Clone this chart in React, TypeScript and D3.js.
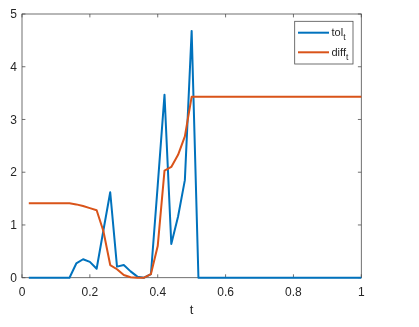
import React, { useRef, useEffect } from 'react';
import * as d3 from 'd3';

// t sampled every 0.02 from 0.02 to 1
const tValues = d3.range(1, 51).map(i => +(i * 0.02).toFixed(2));

const tolValues = [
  0, 0, 0, 0, 0, 0, 0, 0.27, 0.35, 0.3,
  0.17, 0.9, 1.62, 0.21, 0.24, 0.12, 0.02, 0, 0.07, 1.75,
  3.47, 0.64, 1.16, 1.85, 4.68, 0, 0, 0, 0, 0,
  0, 0, 0, 0, 0, 0, 0, 0, 0, 0,
  0, 0, 0, 0, 0, 0, 0, 0, 0, 0,
];

const diffValues = [
  1.41, 1.41, 1.41, 1.41, 1.41, 1.41, 1.41, 1.39, 1.36, 1.32,
  1.28, 0.88, 0.24, 0.16, 0.05, 0.01, 0, 0, 0.07, 0.6,
  2.03, 2.1, 2.33, 2.68, 3.43, 3.43, 3.43, 3.43, 3.43, 3.43,
  3.43, 3.43, 3.43, 3.43, 3.43, 3.43, 3.43, 3.43, 3.43, 3.43,
  3.43, 3.43, 3.43, 3.43, 3.43, 3.43, 3.43, 3.43, 3.43, 3.43,
];

const xTicks = [0, 0.2, 0.4, 0.6, 0.8, 1];
const yTicks = [0, 1, 2, 3, 4, 5];

const seriesNames = ['tol', 'diff'];
const seriesColors = ['#0072BD', '#D95319'];

function Chart() {
  const svgRef = useRef(null);

  useEffect(() => {
    const svg = d3.select(svgRef.current);
    svg.selectAll('*').remove();

    const width = 419;
    const height = 327;
    const margin = { top: 14, right: 57.7, bottom: 49.3, left: 22 };
    const font = 'Helvetica, Arial, "Liberation Sans", sans-serif';
    const axisColor = '#4d4d4d';
    const textColor = '#262626';

    const x = d3.scaleLinear().domain([0, 1]).range([margin.left, width - margin.right]);
    const y = d3.scaleLinear().domain([0, 5]).range([height - margin.bottom, margin.top]);

    const tick = 3.4;
    const x0 = x(0), x1 = x(1), y0 = y(0), y1 = y(5);

    // box
    svg.append('rect')
      .attr('x', x0).attr('y', y1)
      .attr('width', x1 - x0).attr('height', y0 - y1)
      .attr('fill', 'white')
      .attr('stroke', axisColor)
      .attr('stroke-width', 0.8);

    // ticks on all four sides, pointing inward
    const g = svg.append('g').attr('stroke', axisColor).attr('stroke-width', 0.8);
    xTicks.forEach(v => {
      g.append('line').attr('x1', x(v)).attr('x2', x(v)).attr('y1', y0).attr('y2', y0 - tick);
      g.append('line').attr('x1', x(v)).attr('x2', x(v)).attr('y1', y1).attr('y2', y1 + tick);
    });
    yTicks.forEach(v => {
      g.append('line').attr('x1', x0).attr('x2', x0 + tick).attr('y1', y(v)).attr('y2', y(v));
      g.append('line').attr('x1', x1).attr('x2', x1 - tick).attr('y1', y(v)).attr('y2', y(v));
    });

    // tick labels
    svg.append('g').selectAll('text').data(xTicks).join('text')
      .attr('x', d => x(d)).attr('y', y0 + 18)
      .attr('text-anchor', 'middle')
      .attr('font-family', font).attr('font-size', 12)
      .attr('fill', textColor)
      .text(d => String(d));

    svg.append('g').selectAll('text').data(yTicks).join('text')
      .attr('x', x0 - 5).attr('y', d => y(d) + 4.2)
      .attr('text-anchor', 'end')
      .attr('font-family', font).attr('font-size', 12)
      .attr('fill', textColor)
      .text(d => String(d));

    // x label
    svg.append('text')
      .attr('x', (x0 + x1) / 2).attr('y', y0 + 36.5)
      .attr('text-anchor', 'middle')
      .attr('font-family', font).attr('font-size', 13)
      .attr('fill', textColor)
      .text('t');

    const line = d3.line()
      .x((d, i) => x(tValues[i]))
      .y(d => y(d));

    [tolValues, diffValues].forEach((vals, i) => {
      svg.append('path')
        .datum(vals)
        .attr('fill', 'none')
        .attr('stroke', seriesColors[i])
        .attr('stroke-width', 2)
        .attr('stroke-linejoin', 'round')
        .attr('d', line);
    });

    // legend
    const lg = svg.append('g');
    lg.append('rect')
      .attr('x', 294.7).attr('y', 21.3)
      .attr('width', 58.3).attr('height', 42.7)
      .attr('fill', 'white')
      .attr('stroke', axisColor)
      .attr('stroke-width', 0.8);
    seriesNames.forEach((name, i) => {
      const ly = 32.7 + i * 19.6;
      lg.append('line')
        .attr('x1', 298).attr('x2', 329)
        .attr('y1', ly).attr('y2', ly)
        .attr('stroke', seriesColors[i]).attr('stroke-width', 2);
      const t = lg.append('text')
        .attr('x', 331.5).attr('y', ly + 3.5)
        .attr('font-family', font).attr('font-size', 11)
        .attr('fill', textColor);
      t.append('tspan').text(name);
      t.append('tspan').attr('dy', 4).attr('font-size', 8.5).text('t');
    });
  }, []);

  return <svg ref={svgRef} width={419} height={327} style={{ display: 'block' }} />;
}

export default function App() {
  return (
    <div style={{ position: 'fixed', left: 0, top: 0, margin: 0 }}>
      <Chart />
    </div>
  );
}
